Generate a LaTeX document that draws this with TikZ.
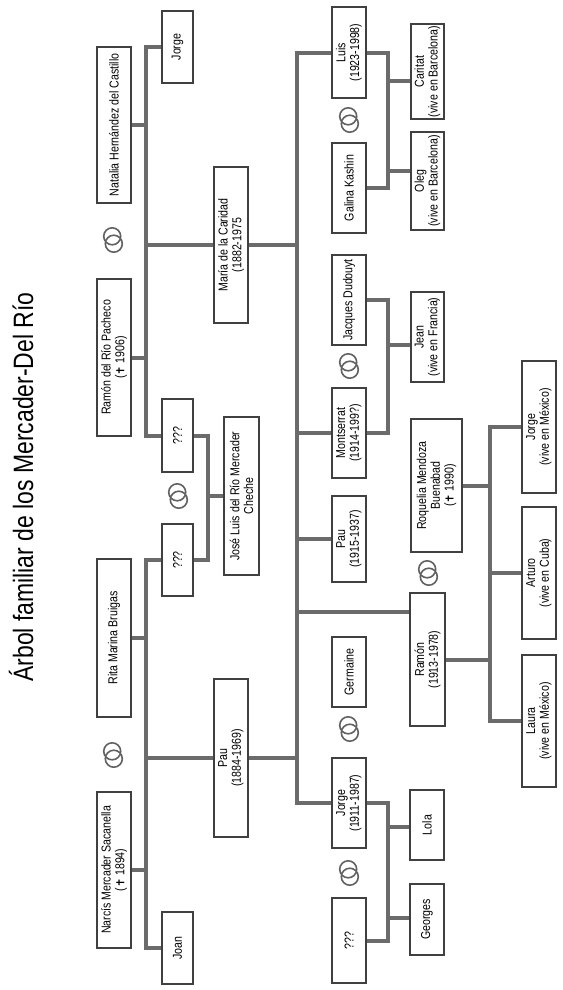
\documentclass[tikz,border=0pt]{standalone}
\usepackage{fontspec}
\setmainfont{Liberation Sans}[FakeStretch=0.82]
\newfontfamily\cruzfont{DejaVu Sans}
\newcommand\cruz{{\cruzfont\scalebox{0.85}{✝}}}
\tikzset{
  caja/.style={draw=black!75, line width=0.8pt, fill=white, rotate=90, inner sep=0pt,
    align=center, minimum height=25.5pt, font=\fontsize{9.7}{10.3}\selectfont},
  linea/.style={draw=black!58, line width=3pt},
  anillo/.style={draw=black!62, line width=1.2pt}
}
\begin{document}
\begin{tikzpicture}[x=0.75pt, y=-0.75pt]
  \useasboundingbox (0,0) rectangle (562,990);

  % título
  \node[rotate=90, anchor=base, font=\fontsize{21}{21}\selectfont] (titulo) at (33,487) {Árbol familiar de los Mercader-Del Río};

  % primera generación
  \node[caja, minimum width=117pt] (natalia) at (114,125) {Natalia Hernández del Castillo};
  \node[caja, minimum width=117.75pt] (rpacheco) at (114,357.5) {Ramón del Río Pacheco\\(\cruz\ 1906)};
  \node[caja, minimum width=118.5pt] (rita) at (114,638) {Rita Marina Bruigas};
  \node[caja, minimum width=117pt] (narcis) at (114,870) {Narcís Mercader Sacanella\\(\cruz\ 1894)};

  % hijos
  \node[caja, minimum width=54pt, minimum height=23.25pt] (jorge1) at (177.5,47) {Jorge};
  \node[caja, minimum width=117pt] (maria) at (231,245) {María de la Caridad\\(1882-1975};
  \node[caja, minimum width=54.75pt, minimum height=23.25pt] (desc1) at (177.5,435.5) {???};
  \node[caja, minimum width=54pt, minimum height=23.25pt] (desc2) at (177.5,560) {???};
  \node[caja, minimum width=118.5pt, minimum height=26.25pt] (joseluis) at (241.5,496) {José Luis del Río Mercader\\Cheche};
  \node[caja, minimum width=118.5pt] (pau1) at (231,758) {Pau\\(1884-1969)};
  \node[caja, minimum width=54pt, minimum height=23.25pt] (joan) at (177.5,948) {Joan};

  % segunda generación
  \node[caja, minimum width=68.25pt] (luis) at (349,52.5) {Luis\\(1923-1998)};
  \node[caja, minimum width=67.5pt] (galina) at (349,188) {Galina Kashin};
  \node[caja, minimum width=67.5pt] (jacques) at (349,300) {Jacques Dudouyt};
  \node[caja, minimum width=67.5pt] (montserrat) at (349,433) {Montserrat\\(1914-199?)};
  \node[caja, minimum width=64.5pt] (pau2) at (349,539) {Pau\\(1915-1937)};
  \node[caja, minimum width=52.5pt] (germaine) at (349,672) {Germaine};
  \node[caja, minimum width=67.5pt] (jorge2) at (349,803) {Jorge\\(1911-1987)};
  \node[caja, minimum width=63.75pt] (desc3) at (349,940.5) {???};
  \node[caja, minimum width=99.75pt, minimum height=38.25pt] (roquelia) at (436.5,485.5) {Roquelia Mendoza\\Buenabad\\(\cruz\ 1990)};
  \node[caja, minimum width=99.75pt, minimum height=26.25pt] (ramon2) at (427.5,659.5) {Ramón\\(1913-1978)};

  % tercera generación
  \node[caja, minimum width=71.25pt, minimum height=24.75pt] (caritat) at (427.5,71.5) {Caritat\\(vive en Barcelona)};
  \node[caja, minimum width=73.5pt, minimum height=24.75pt] (oleg) at (427.5,181) {Oleg\\(vive en Barcelona)};
  \node[caja, minimum width=67.5pt, minimum height=24.75pt] (jean) at (427.5,337) {Jean\\(vive en Francia)};
  \node[caja, minimum width=52.5pt] (lola) at (427,825) {Lola};
  \node[caja, minimum width=53.25pt] (georges) at (427,919.5) {Georges};
  \node[caja, minimum width=99pt] (jorge3) at (539,427) {Jorge\\(vive en México)};
  \node[caja, minimum width=99pt] (arturo) at (539,573) {Arturo\\(vive en Cuba)};
  \node[caja, minimum width=99pt] (laura) at (539,721) {Laura\\(vive en México)};

  % troncos
  \coordinate (tA) at (146,0);
  \coordinate (tB) at (297,0);
  \coordinate (tC) at (208,0);
  \coordinate (tD) at (388,0);
  \coordinate (tE) at (490,0);

  % Natalia y Ramón del Río
  \draw[linea] (jorge1.north) -- (jorge1.north -| tA) -- (desc1.north -| tA) -- (desc1.north);
  \draw[linea] (natalia.south) -- (natalia.south -| tA);
  \draw[linea] (rpacheco.south) -- (rpacheco.south -| tA);
  \draw[linea] (maria.north -| tA) -- (maria.north);

  % Rita y Narcís
  \draw[linea] (desc2.north) -- (desc2.north -| tA) -- (joan.north -| tA) -- (joan.north);
  \draw[linea] (rita.south) -- (rita.south -| tA);
  \draw[linea] (narcis.south) -- (narcis.south -| tA);
  \draw[linea] (pau1.north -| tA) -- (pau1.north);

  % José Luis
  \draw[linea] (desc1.south) -- (desc1.south -| tC) -- (desc2.south -| tC) -- (desc2.south);
  \draw[linea] (joseluis.north -| tC) -- (joseluis.north);

  % María y Pau
  \coordinate (kr) at (297,612);
  \draw[linea] (luis.north) -- (luis.north -| tB) -- (jorge2.north -| tB) -- (jorge2.north);
  \draw[linea] (maria.south) -- (maria.south -| tB);
  \draw[linea] (pau1.south) -- (pau1.south -| tB);
  \draw[linea] (montserrat.north -| tB) -- (montserrat.north);
  \draw[linea] (pau2.north -| tB) -- (pau2.north);
  \draw[linea] (kr) -- (kr -| ramon2.north);

  % Luis y Galina
  \coordinate (kc) at (388,81);
  \coordinate (ko) at (388,171);
  \draw[linea] (luis.south) -- (luis.south -| tD) -- (galina.south -| tD) -- (galina.south);
  \draw[linea] (kc) -- (kc -| caritat.north);
  \draw[linea] (ko) -- (ko -| oleg.north);

  % Jacques y Montserrat
  \coordinate (kj) at (388,345);
  \draw[linea] (jacques.south) -- (jacques.south -| tD) -- (montserrat.south -| tD) -- (montserrat.south);
  \draw[linea] (kj) -- (kj -| jean.north);

  % Jorge
  \coordinate (kl) at (388,827);
  \coordinate (kg) at (388,918);
  \draw[linea] (jorge2.south) -- (jorge2.south -| tD) -- (desc3.south -| tD) -- (desc3.south);
  \draw[linea] (kl) -- (kl -| lola.north);
  \draw[linea] (kg) -- (kg -| georges.north);

  % Ramón y Roquelia
  \draw[linea] (jorge3.north) -- (jorge3.north -| tE) -- (laura.north -| tE) -- (laura.north);
  \draw[linea] (arturo.north -| tE) -- (arturo.north);
  \draw[linea] (roquelia.south) -- (roquelia.south -| tE);
  \draw[linea] (ramon2.south) -- (ramon2.south -| tE);

  % anillos
  \draw[anillo] (112.2,236.3) circle[radius=8.5] (113.8,243.7) circle[radius=8.5];
  \draw[anillo] (177.2,492.3) circle[radius=8.5] (178.8,499.7) circle[radius=8.5];
  \draw[anillo] (112.2,751.3) circle[radius=8.5] (113.8,758.7) circle[radius=8.5];
  \draw[anillo] (348.2,116.3) circle[radius=8.5] (349.8,123.7) circle[radius=8.5];
  \draw[anillo] (348.2,362.3) circle[radius=8.5] (349.8,369.7) circle[radius=8.5];
  \draw[anillo] (427.2,569.3) circle[radius=8.5] (428.8,576.7) circle[radius=8.5];
  \draw[anillo] (348.2,725.3) circle[radius=8.5] (349.8,732.7) circle[radius=8.5];
  \draw[anillo] (348.2,869.3) circle[radius=8.5] (349.8,876.7) circle[radius=8.5];
\end{tikzpicture}
\end{document}
